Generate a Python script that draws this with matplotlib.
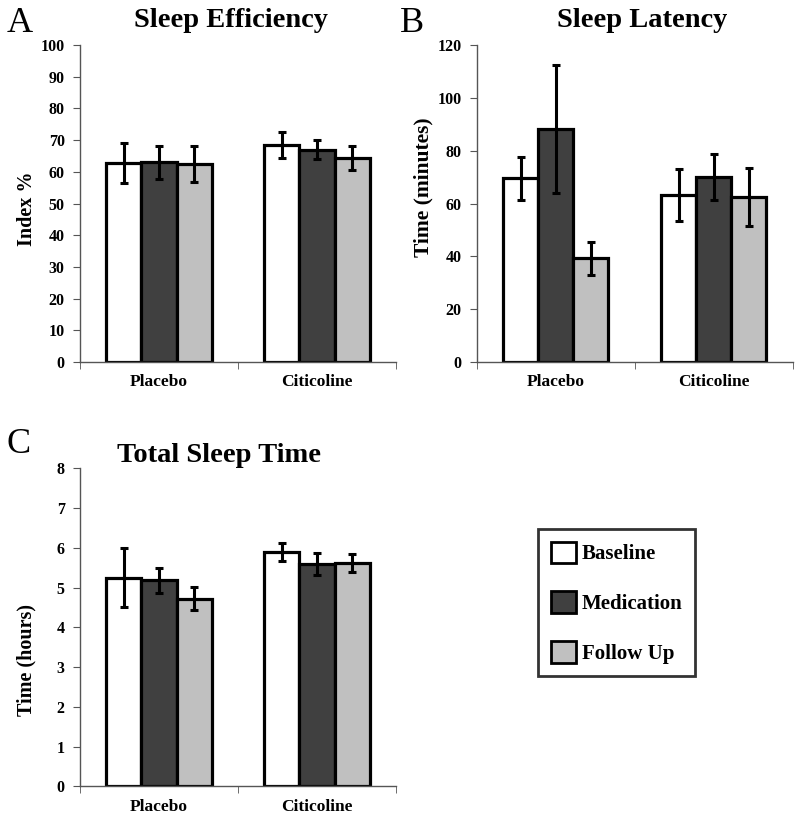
import matplotlib
matplotlib.use("Agg")
import matplotlib.pyplot as plt
from matplotlib.patches import Patch
import numpy as np

plt.rcParams['font.family'] = ['Liberation Serif', 'DejaVu Serif']

groups = ["Placebo", "Citicoline"]
series = ["Baseline", "Medication", "Follow Up"]
colors = ["#ffffff", "#404040", "#c0c0c0"]

eff_vals = [[62.8, 68.5], [63.0, 67.0], [62.5, 64.3]]
eff_err = [[6.2, 4.0], [5.3, 3.0], [5.6, 3.8]]

lat_vals = [[69.6, 63.2], [88.3, 70.0], [39.2, 62.6]]
lat_err = [[8.2, 10.0], [24.2, 8.6], [6.2, 11.0]]

tst_vals = [[5.25, 5.90], [5.18, 5.59], [4.72, 5.62]]
tst_err = [[0.75, 0.22], [0.31, 0.28], [0.29, 0.23]]

fig = plt.figure(figsize=(8.0, 8.19), dpi=100)

def panel(rect, vals, errs, ymax, ystep, title, title_xy, ylabel, ylab_size,
          ylab_y, letter, letter_xy):
    ax = fig.add_axes(rect)
    x = np.arange(len(groups))
    w = 0.222
    for i in range(len(series)):
        ax.bar(x + (i - 1) * w, vals[i], width=w, color=colors[i],
               edgecolor='black', linewidth=2.3, zorder=2)
        ax.errorbar(x + (i - 1) * w, vals[i], yerr=errs[i], fmt='none',
                    ecolor='black', elinewidth=2.2, capsize=2.8,
                    capthick=2.2, zorder=3)
    ax.set_xlim(-0.5, 1.5)
    ax.set_ylim(0, ymax)
    ax.set_yticks(np.arange(0, ymax + ystep / 2, ystep))
    ax.set_xticks(x)
    ax.set_xticklabels(groups, fontweight='bold', fontsize=12.5)
    ax.set_xticks([-0.5, 0.5, 1.5], minor=True)
    ax.tick_params(axis='x', which='major', length=0, pad=9)
    ax.tick_params(axis='x', which='minor', length=5, direction='out', color='#555555')
    ax.tick_params(axis='y', length=5, direction='out', color='#555555', labelsize=11.5, pad=6)
    for lab in ax.get_yticklabels():
        lab.set_fontweight('bold')
    for s in ['top', 'right']:
        ax.spines[s].set_visible(False)
    for s in ['left', 'bottom']:
        ax.spines[s].set_color('#555555')
        ax.spines[s].set_linewidth(1.0)
    fig.text(title_xy[0], title_xy[1], title, fontweight='bold', fontsize=20.5,
             ha='center', va='baseline')
    ax.set_ylabel(ylabel, fontweight='bold', fontsize=ylab_size, ha='center', va='center')
    ax.yaxis.set_label_coords(-0.168, ylab_y)
    fig.text(letter_xy[0], letter_xy[1], letter, fontsize=26,
             ha='left', va='baseline')
    return ax

panel([0.10, 0.558, 0.395, 0.387], eff_vals, eff_err, 100, 10,
      "Sleep Efficiency", (0.289, 0.967), "Index %", 14.5, 0.483,
      "A", (0.008, 0.961))
panel([0.596, 0.558, 0.395, 0.387], lat_vals, lat_err, 120, 20,
      "Sleep Latency", (0.8025, 0.967), "Time (minutes)", 15.5, 0.552,
      "B", (0.500, 0.961))
panel([0.10, 0.040, 0.395, 0.388], tst_vals, tst_err, 8, 1,
      "Total Sleep Time", (0.274, 0.436), "Time (hours)", 14.5, 0.396,
      "C", (0.008, 0.447))

handles = [Patch(facecolor=c, edgecolor='black', linewidth=2) for c in colors]
leg = fig.legend(handles, series, loc='upper left', bbox_to_anchor=(0.6725, 0.354),
                 frameon=True, fancybox=False, edgecolor='black',
                 prop={'weight': 'bold', 'size': 15}, handlelength=1.2,
                 handleheight=1.2, labelspacing=1.3, borderpad=0.6,
                 handletextpad=0.3, borderaxespad=0)
leg.get_frame().set_linewidth(2)

fig.savefig("out.png", dpi=100)
